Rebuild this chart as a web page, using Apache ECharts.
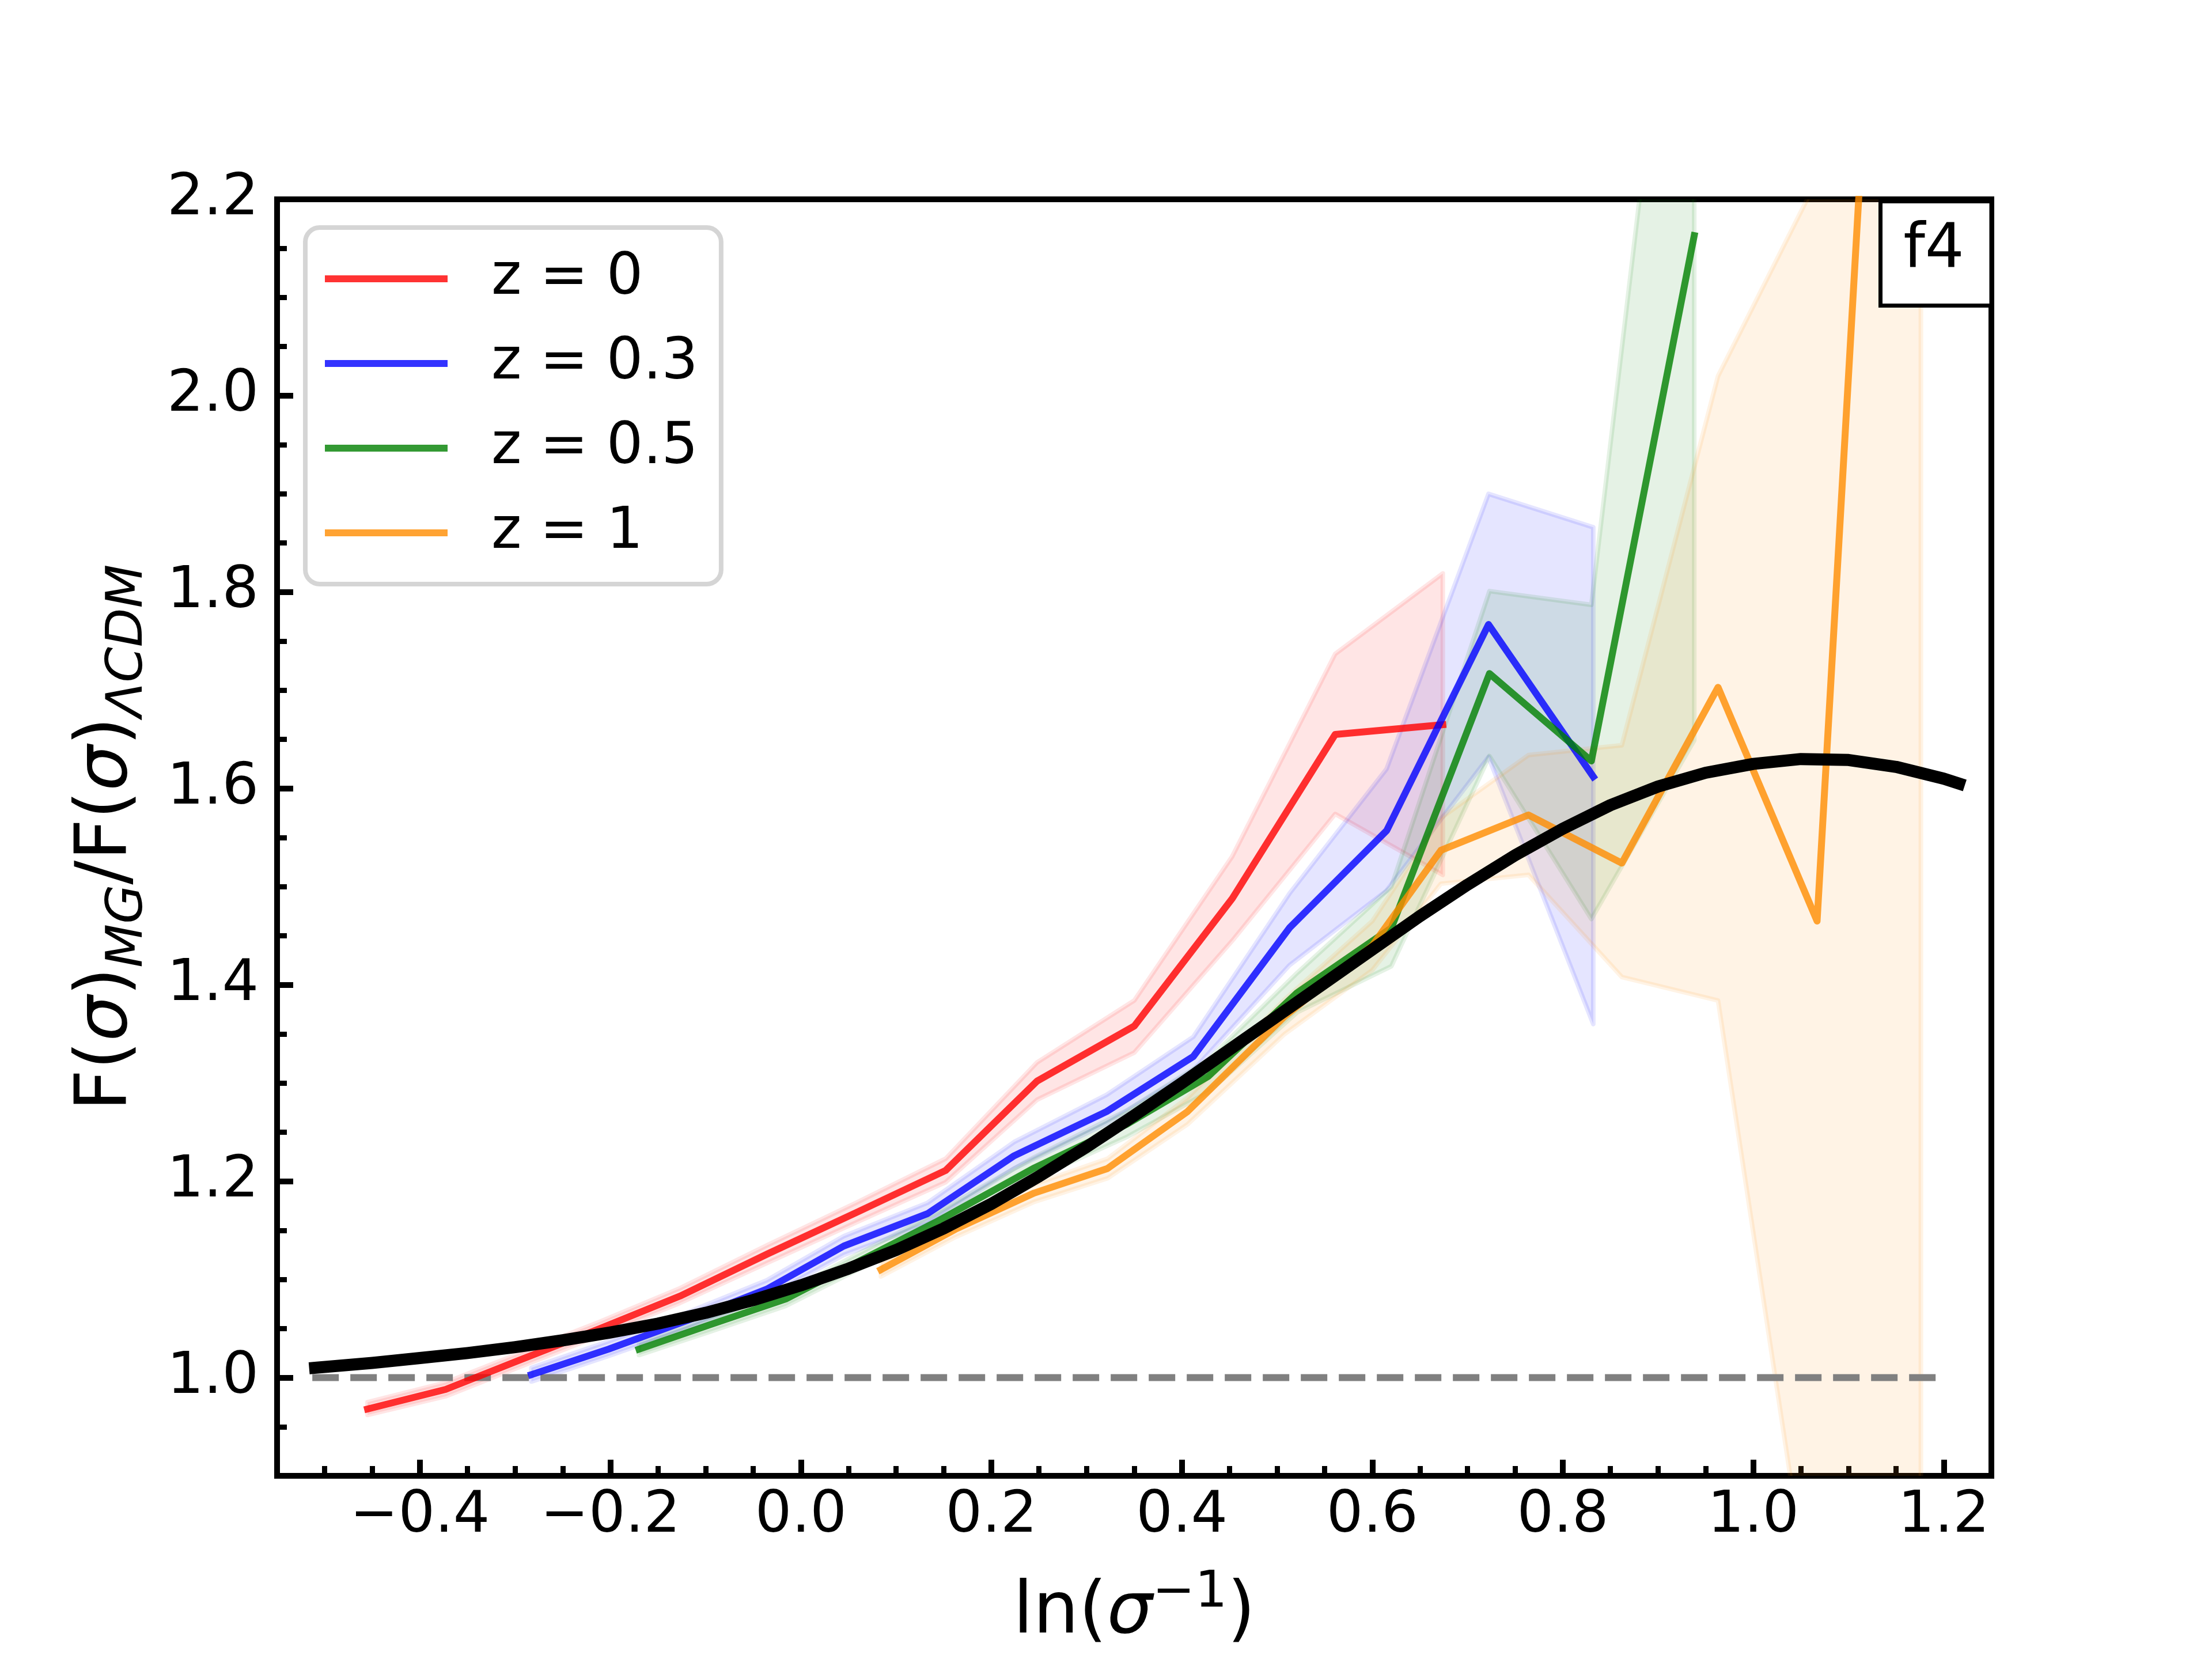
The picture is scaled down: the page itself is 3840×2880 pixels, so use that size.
<!DOCTYPE html>
<html><head><meta charset="utf-8">
<script src="https://cdn.jsdelivr.net/npm/echarts@6/dist/echarts.min.js"></script>
<style>html,body{margin:0;padding:0;background:#fff}#c{width:3840px;height:2880px}</style>
</head><body><div id="c"></div>
<script>
// ---- tick labels ----
const xTicks = [-0.4, -0.2, 0.0, 0.2, 0.4, 0.6, 0.8, 1.0, 1.2];
const yTicks = [1.0, 1.2, 1.4, 1.6, 1.8, 2.0, 2.2];
const legendNames = ['z = 0', 'z = 0.3', 'z = 0.5', 'z = 1'];

// ---- z = 0 ----
const xZ0  = [-0.455, -0.373, -0.295, -0.211, -0.127, -0.035, 0.058, 0.152, 0.248, 0.350, 0.453, 0.561, 0.674];
const yZ0  = [0.968, 0.988, 1.018, 1.050, 1.083, 1.126, 1.168, 1.211, 1.302, 1.358, 1.488, 1.655, 1.665];
const hiZ0 = [0.975, 0.995, 1.025, 1.057, 1.091, 1.135, 1.178, 1.223, 1.321, 1.384, 1.531, 1.737, 1.819];
const loZ0 = [0.962, 0.981, 1.011, 1.043, 1.076, 1.117, 1.158, 1.199, 1.283, 1.331, 1.445, 1.574, 1.512];

// ---- z = 0.3 ----
const xZ03  = [-0.283, -0.202, -0.120, -0.036, 0.045, 0.133, 0.224, 0.321, 0.412, 0.513, 0.615, 0.722, 0.832];
const yZ03  = [1.003, 1.029, 1.058, 1.090, 1.134, 1.167, 1.226, 1.271, 1.327, 1.458, 1.557, 1.767, 1.612];
const hiZ03 = [1.010, 1.037, 1.066, 1.099, 1.144, 1.178, 1.240, 1.288, 1.347, 1.493, 1.620, 1.900, 1.866];
const loZ03 = [0.996, 1.022, 1.050, 1.082, 1.125, 1.157, 1.213, 1.259, 1.313, 1.420, 1.496, 1.632, 1.360];

// ---- z = 0.5 ----
const xZ05  = [-0.170, -0.098, -0.016, 0.060, 0.141, 0.244, 0.342, 0.428, 0.521, 0.620, 0.723, 0.830, 0.938];
const yZ05  = [1.029, 1.053, 1.080, 1.118, 1.158, 1.213, 1.258, 1.307, 1.392, 1.458, 1.717, 1.628, 2.163];
const hiZ05 = [1.035, 1.060, 1.087, 1.126, 1.167, 1.224, 1.272, 1.324, 1.412, 1.500, 1.801, 1.787, 2.670];
const loZ05 = [1.023, 1.046, 1.073, 1.110, 1.149, 1.202, 1.245, 1.291, 1.372, 1.419, 1.633, 1.467, 1.649];

// ---- z = 1 ----
const xZ1  = [0.084, 0.162, 0.245, 0.322, 0.406, 0.508, 0.600, 0.672, 0.764, 0.862, 0.963, 1.067, 1.176];
const yZ1  = [1.110, 1.151, 1.188, 1.213, 1.271, 1.368, 1.440, 1.537, 1.573, 1.524, 1.703, 1.465, 3.300];
const hiZ1 = [1.117, 1.159, 1.197, 1.223, 1.285, 1.385, 1.465, 1.570, 1.634, 1.644, 2.020, 2.220, 4.000];
const loZ1 = [1.103, 1.143, 1.179, 1.203, 1.258, 1.350, 1.415, 1.503, 1.512, 1.408, 1.384, 0.720, 0.500];

// ---- fitting function (black) ----
const xFit = [-0.51, -0.45, -0.40, -0.35, -0.30, -0.25, -0.20, -0.15, -0.10, -0.05, 0.00, 0.05, 0.10, 0.15, 0.20,
              0.25, 0.30, 0.35, 0.40, 0.45, 0.50, 0.55, 0.60, 0.65, 0.70, 0.75, 0.80, 0.85, 0.90, 0.95,
              1.00, 1.05, 1.10, 1.15, 1.20, 1.216];
const yFit = [1.010, 1.015, 1.020, 1.025, 1.031, 1.038, 1.046, 1.055, 1.066, 1.079, 1.094, 1.111, 1.130, 1.152, 1.177,
              1.205, 1.235, 1.267, 1.300, 1.334, 1.368, 1.402, 1.436, 1.470, 1.502, 1.532, 1.559, 1.583, 1.602, 1.616,
              1.625, 1.630, 1.629, 1.622, 1.610, 1.605];

// ---- reference line ----
const xRef = [-0.513, 1.2];
const yRef = [1.0, 1.0];

const FONT = 'DejaVu Sans';
const groups = [
  {name: legendNames[0], x: xZ0,  y: yZ0,  hi: hiZ0,  lo: loZ0,  rgb: '255,0,0'},
  {name: legendNames[1], x: xZ03, y: yZ03, hi: hiZ03, lo: loZ03, rgb: '0,0,255'},
  {name: legendNames[2], x: xZ05, y: yZ05, hi: hiZ05, lo: loZ05, rgb: '0,128,0'},
  {name: legendNames[3], x: xZ1,  y: yZ1,  hi: hiZ1,  lo: loZ1,  rgb: '255,140,0'}
];
const pairs = (xs, ys) => xs.map((v, i) => [v, ys[i]]);

const series = [];
series.push({
  type: 'line', name: 'ref', data: pairs(xRef, yRef), symbol: 'none', silent: true,
  lineStyle: {color: '#808080', width: 12, type: [46, 20], cap: 'butt'}, z: 2
});
groups.forEach((g) => {
  series.push({
    type: 'custom', name: g.name + ' band', silent: true, z: 2,
    data: [[0, 1]], encode: {x: 0, y: 1},
    renderItem: (params, api) => {
      const lower = g.x.map((v, i) => api.coord([v, g.lo[i]]));
      const upper = g.x.map((v, i) => api.coord([v, g.hi[i]])).reverse();
      const cs = params.coordSys;
      return {
        type: 'group',
        clipPath: {type: 'rect', shape: {x: cs.x, y: cs.y, width: cs.width, height: cs.height}},
        children: [{
          type: 'polygon', shape: {points: lower.concat(upper)},
          style: {fill: 'rgba(' + g.rgb + ',0.1)', stroke: 'rgba(' + g.rgb + ',0.1)', lineWidth: 8, lineJoin: 'round'}
        }]
      };
    }
  });
});
groups.forEach((g) => {
  series.push({
    type: 'line', name: g.name, data: pairs(g.x, g.y), symbol: 'none',
    color: 'rgba(' + g.rgb + ',0.8)',
    lineStyle: {color: 'rgba(' + g.rgb + ',0.8)', width: 12, join: 'round', cap: 'square'}, z: 3
  });
});
series.push({
  type: 'line', name: 'fit', data: pairs(xFit, yFit), symbol: 'none', smooth: false,
  lineStyle: {color: '#000', width: 21, cap: 'square', join: 'round'}, z: 4
});

const fmt = (v) => (v < 0 ? '\u2212' + (-v).toFixed(1) : v.toFixed(1));
const axisLineStyle = {show: true, onZero: false, lineStyle: {color: '#000', width: 10}};

const chart = echarts.init(document.getElementById('c'), null, {width: 3840, height: 2880});
chart.setOption({
  animation: false,
  backgroundColor: '#fff',
  grid: {left: 481, right: 383, top: 346, bottom: 318, show: true, borderColor: '#000', borderWidth: 10, backgroundColor: 'transparent'},
  xAxis: [
    {
      type: 'value', min: -0.55, max: 1.25, position: 'bottom',
      axisLine: axisLineStyle,
      axisTick: {show: true, inside: true, length: 28, lineStyle: {color: '#000', width: 10}, customValues: xTicks},
      axisLabel: {show: true, customValues: xTicks, formatter: fmt, margin: 21, color: '#000', fontSize: 100, fontFamily: FONT},
      splitLine: {show: false},
      name: '{n|ln(}{i|σ}{sup|\u22121}{n|)}', nameLocation: 'middle', nameGap: 160,
      nameTextStyle: {
        color: '#000', fontFamily: FONT, fontSize: 125,
        rich: {
          n: {fontSize: 125, lineHeight: 160, fontFamily: FONT, color: '#000'},
          i: {fontSize: 125, lineHeight: 160, fontFamily: FONT, fontStyle: 'italic', color: '#000'},
          sup: {fontSize: 88, lineHeight: 88, fontFamily: FONT, verticalAlign: 'top', color: '#000'}
        }
      }
    },
    {
      type: 'value', min: -0.55, max: 1.25, interval: 0.05, position: 'bottom',
      axisLine: {show: false, onZero: false},
      axisTick: {show: true, inside: true, length: 17, lineStyle: {color: '#000', width: 9}},
      axisLabel: {show: false}, splitLine: {show: false}
    }
  ],
  yAxis: [
    {
      type: 'value', min: 0.9, max: 2.2, position: 'left',
      axisLine: axisLineStyle,
      axisTick: {show: true, inside: true, length: 28, lineStyle: {color: '#000', width: 10}, customValues: yTicks},
      axisLabel: {show: true, customValues: yTicks, formatter: fmt, margin: 32, color: '#000', fontSize: 100, fontFamily: FONT},
      splitLine: {show: false},
      name: '{n|F(}{i|σ}{n|)}{sub|MG}{n|/F(}{i|σ}{n|)}{sub|ΛCDM}', nameLocation: 'middle', nameRotate: 90, nameGap: 214,
      nameTextStyle: {
        color: '#000', fontFamily: FONT, fontSize: 125,
        rich: {
          n: {fontSize: 125, lineHeight: 160, fontFamily: FONT, color: '#000'},
          i: {fontSize: 125, lineHeight: 160, fontFamily: FONT, fontStyle: 'italic', color: '#000'},
          sub: {fontSize: 88, lineHeight: 88, fontFamily: FONT, fontStyle: 'italic', verticalAlign: 'bottom', color: '#000'}
        }
      }
    },
    {
      type: 'value', min: 0.9, max: 2.2, interval: 0.05, position: 'left',
      axisLine: {show: false, onZero: false},
      axisTick: {show: true, inside: true, length: 17, lineStyle: {color: '#000', width: 9}},
      axisLabel: {show: false}, splitLine: {show: false}
    }
  ],
  legend: {
    show: true, orient: 'vertical', left: 530, top: 395,
    data: legendNames, selectedMode: false,
    icon: 'rect', itemWidth: 213, itemHeight: 12, itemGap: 47,
    itemStyle: {borderWidth: 0},
    padding: [39, 40, 39, 34],
    backgroundColor: '#fff', borderColor: '#d5d5d5', borderWidth: 8, borderRadius: 25,
    textStyle: {fontSize: 100, lineHeight: 100, fontFamily: FONT, color: '#000', padding: [0, 0, 0, 71]}
  },
  graphic: [
    {type: 'rect', z: 100, shape: {x: 3264.5, y: 349.5, width: 192.5, height: 181},
     style: {fill: '#fff', stroke: '#000', lineWidth: 7}},
    {type: 'text', z: 101, x: 3357, y: 435,
     style: {text: 'f4', fontSize: 107, fontFamily: FONT, fill: '#000', align: 'center', verticalAlign: 'middle'}}
  ],
  series: series
});
</script></body></html>
